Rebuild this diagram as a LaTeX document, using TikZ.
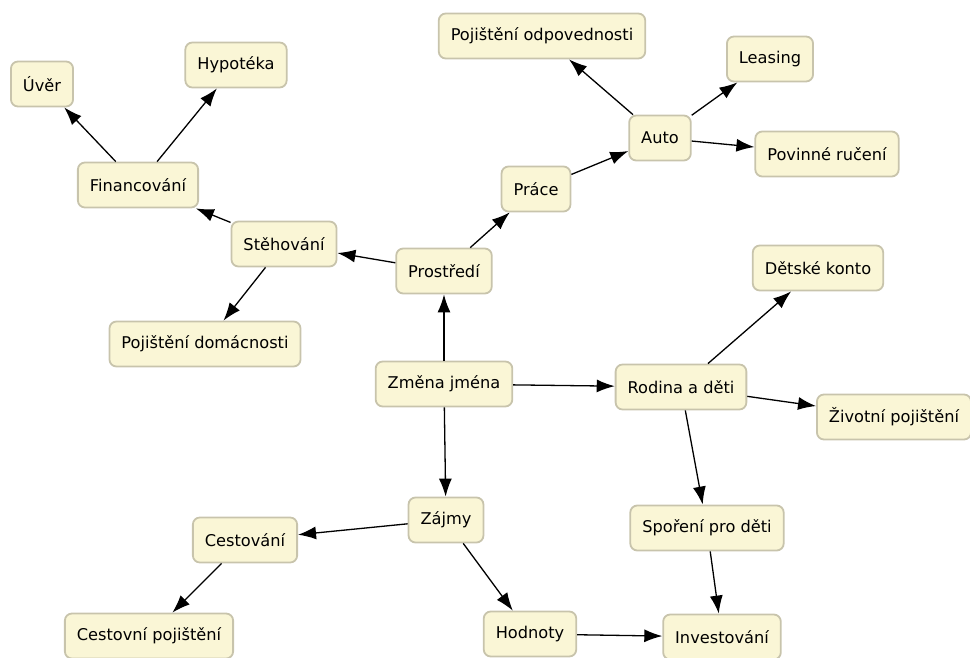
\documentclass[tikz,border=0pt]{standalone}
\usepackage{fontspec}
\setmainfont{DejaVu Sans}
\usetikzlibrary{arrows.meta}
\definecolor{boxfill}{RGB}{250,246,214}
\definecolor{boxline}{RGB}{200,196,172}
\begin{document}
\begin{tikzpicture}[x=1pt,y=-1pt,>={Latex[length=18pt,width=13pt]},line width=1.3pt,
  font=\fontsize{16.2}{19}\selectfont,
  box/.style={draw=boxline,fill=boxfill,line width=1.8pt,rounded corners=7pt,
    inner xsep=12pt,minimum height=45pt}]
  \useasboundingbox (0,0) rectangle (970,658);
  \node[box] (uver) at (42,84) {Úvěr};
  \node[box] (hypo) at (236,65) {Hypotéka};
  \node[box] (fin) at (138,185) {Financování};
  \node[box] (steh) at (284,244) {Stěhování};
  \node[box] (dom) at (205,344) {Pojištění domácnosti};
  \node[box] (prost) at (444,271) {Prostředí};
  \node[box] (prace) at (536,189) {Práce};
  \node[box] (auto) at (660,138) {Auto};
  \node[box] (odp) at (542,36) {Pojištění odpovednosti};
  \node[box] (leas) at (770,59) {Leasing};
  \node[box] (pov) at (827,154) {Povinné ručení};
  \node[box] (zmena) at (444,384) {Změna jména};
  \node[box] (rodina) at (681,387) {Rodina a děti};
  \node[box] (konto) at (818,268) {Dětské konto};
  \node[box] (ziv) at (894,417) {Životní pojištění};
  \node[box] (sporeni) at (707,528) {Spoření pro děti};
  \node[box] (invest) at (722,637) {Investování};
  \node[box] (zajmy) at (446,520) {Zájmy};
  \node[box] (cest) at (245,540) {Cestování};
  \node[box] (cpoj) at (149,636) {Cestovní pojištění};
  \node[box] (hodn) at (530,634) {Hodnoty};
  \draw[->] (zmena)--(prost);
  \draw[->] (zmena)--(rodina);
  \draw[->] (zmena)--(zajmy);
  \draw[->] (prost)--(steh);
  \draw[->] (prost)--(prace);
  \draw[->] (steh)--(fin);
  \draw[->] (steh)--(dom);
  \draw[->] (fin)--(uver);
  \draw[->] (fin)--(hypo);
  \draw[->] (prace)--(auto);
  \draw[->] (auto)--(odp);
  \draw[->] (auto)--(leas);
  \draw[->] (auto)--(pov);
  \draw[->] (rodina)--(konto);
  \draw[->] (rodina)--(ziv);
  \draw[->] (rodina)--(sporeni);
  \draw[->] (sporeni)--(invest);
  \draw[->] (zajmy)--(cest);
  \draw[->] (zajmy)--(hodn);
  \draw[->] (hodn)--(invest);
  \draw[->] (cest)--(cpoj);
\end{tikzpicture}
\end{document}
